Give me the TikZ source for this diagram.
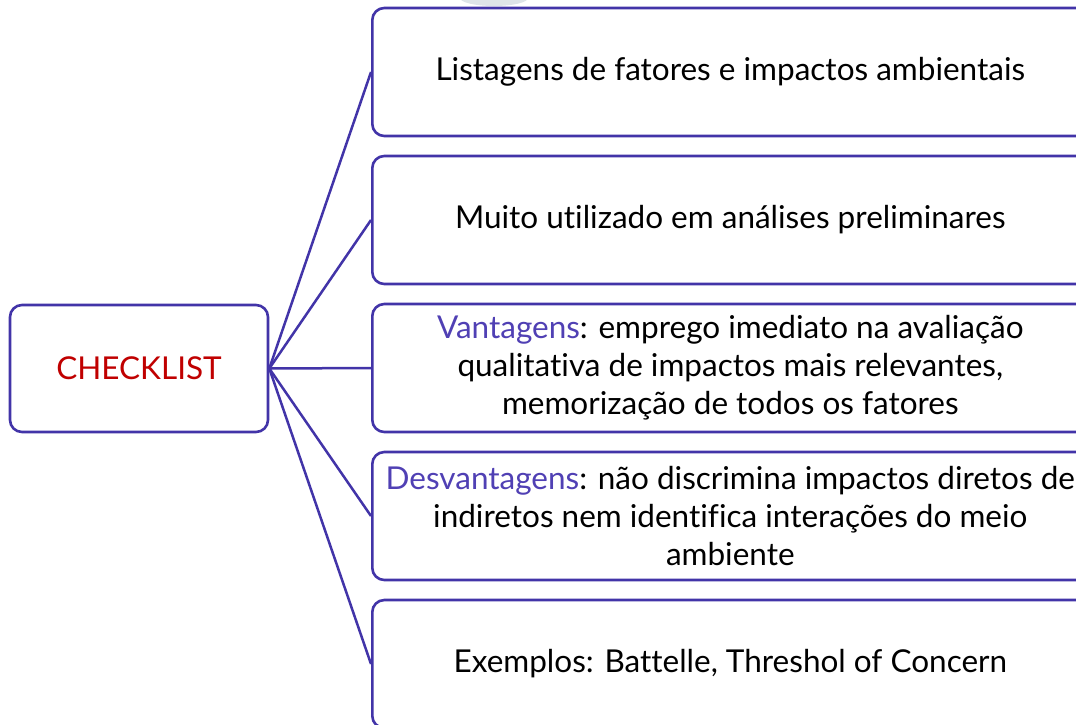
\documentclass[tikz,border=0pt]{standalone}
\usepackage{fontspec}
\setmainfont{Lato}[Ligatures=NoCommon]
\definecolor{bord}{RGB}{66,52,168}
\definecolor{redt}{RGB}{192,0,0}
\definecolor{vant}{RGB}{80,64,180}
\definecolor{blob}{RGB}{222,228,232}
\begin{document}
\begin{tikzpicture}[x=1pt,y=-1pt,
  box/.style={draw=bord, line width=2.6pt, rounded corners=12pt, fill=white, align=center,
    font=\fontsize{31.5}{38}\selectfont, inner sep=0pt},
  rbox/.style={box, minimum width=716pt, minimum height=128pt, anchor=west},
  link/.style={draw=bord, line width=2.5pt}]
\useasboundingbox (0,0) rectangle (1076,724);
\clip (0,0) rectangle (1076,724);
\fill[blob] (494,-2) ellipse (34pt and 8pt);
\node[box, minimum width=258pt, minimum height=127pt, text=redt] (c) at (139,368.5) {CHECKLIST};
\node[rbox] (b1) at (371,72) {Listagens de fatores e impactos ambientais};
\node[rbox] (b2) at (371,220) {Muito utilizado em análises preliminares};
\node[rbox] (b3) at (371,368) {\textcolor{vant}{Vantagens}: emprego imediato na avaliação\\qualitativa de impactos mais relevantes,\\memorização de todos os fatores};
\node[rbox] (b4) at (371,516) {\textcolor{vant}{Desvantagens}: não discrimina impactos diretos de\\indiretos nem identifica interações do meio\\ambiente};
\node[rbox] (b5) at (371,664) {Exemplos: Battelle, Threshol of Concern};
\foreach \b in {b1,b2,b3,b4,b5} \draw[link] (c.east) -- (\b.west);
\end{tikzpicture}
\end{document}
